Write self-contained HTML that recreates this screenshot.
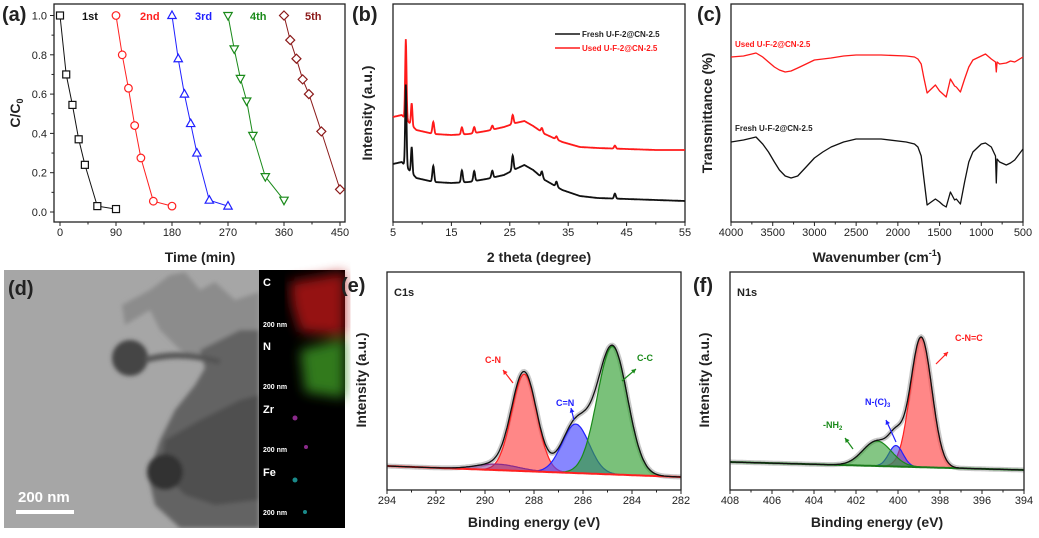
<!DOCTYPE html>
<html><head><meta charset="utf-8">
<style>
html,body{margin:0;padding:0;background:#fff;}
svg{display:block;font-family:"Liberation Sans",Arial,sans-serif;}
.tick{font-size:11px;fill:#222;}
.ttl{font-size:14px;font-weight:bold;fill:#222;}
.plab{font-size:20px;font-weight:bold;fill:#222;}
</style></head><body>
<svg id="fig" width="1039" height="538" viewBox="0 0 1039 538" xmlns="http://www.w3.org/2000/svg">
<defs>
<filter id="blur2"><feGaussianBlur stdDeviation="2"/></filter>
<filter id="blur6"><feGaussianBlur stdDeviation="6"/></filter>
<clipPath id="temclip"><rect x="4" y="270" width="255" height="258"/></clipPath>
</defs>
<!-- panel d TEM -->
<g>
<rect x="4" y="270" width="255" height="258" fill="#a6a6a6"/>
<g filter="url(#blur2)" clip-path="url(#temclip)">
<path d="M170,275 L185,272 L200,290 L215,282 L235,300 L259,292 L259,330 L230,335 L210,345 L200,360 L180,350 L160,330 L150,310 L125,325 L122,305 L150,290 Z" fill="#8c8c8c"/>
<path d="M200,350 L240,330 L259,330 L259,528 L180,528 L155,505 L148,475 L160,440 L175,410 L195,385 L205,368 Z" fill="#636363"/>
<path d="M165,440 L200,420 L240,400 L259,395 L259,500 L215,505 L185,495 L160,470 Z" fill="#4f4f4f"/>
<circle cx="130" cy="358" r="18" fill="#444"/>
<circle cx="165" cy="472" r="18" fill="#333"/>
<path d="M145,360 Q180,350 220,362" stroke="#555" stroke-width="6" fill="none"/>
</g>
<text x="8" y="295" class="plab">(d)</text>
<text x="18" y="502" fill="#fff" font-size="15" font-weight="bold">200 nm</text>
<rect x="16" y="510" width="58" height="4" fill="#fff"/>
<rect x="259" y="270" width="86" height="258" fill="#000"/>
<g filter="url(#blur6)" opacity="0.85">
<path d="M290,282 L345,272 L345,336 L300,332 L292,305 Z" fill="#b01818"/>
<path d="M300,350 L345,338 L345,398 L305,392 Z" fill="#3a9020"/>
</g>
<circle cx="295" cy="418" r="2.5" fill="#8a2a8a"/><circle cx="306" cy="447" r="2" fill="#8a2a8a"/>
<circle cx="295" cy="480" r="2.5" fill="#1a8a8a"/><circle cx="305" cy="512" r="2" fill="#1a8a8a"/>
<g fill="#fff" font-weight="bold" font-size="11">
<text x="263" y="286">C</text><text x="263" y="350">N</text><text x="263" y="413">Zr</text><text x="263" y="476">Fe</text>
<text x="263" y="327" font-size="7">200 nm</text><text x="263" y="389" font-size="7">200 nm</text><text x="263" y="452" font-size="7">200 nm</text><text x="263" y="515" font-size="7">200 nm</text>
</g>
</g>
<g id="plots"></g>
</svg>
<script>
// ---------- Panel (a) data ----------
const aTimes1=[0,10,20,30,40,60,90], aVals1=[1.0,0.70,0.545,0.37,0.24,0.03,0.015];
const aTimes2=[90,100,110,120,130,150,180], aVals2=[1.0,0.80,0.63,0.44,0.275,0.055,0.03];
const aTimes3=[180,190,200,210,220,240,270], aVals3=[1.0,0.78,0.60,0.45,0.30,0.06,0.03];
const aTimes4=[270,280,290,300,310,330,360], aVals4=[1.0,0.83,0.68,0.565,0.39,0.18,0.06];
const aTimes5=[360,370,380,390,400,420,450], aVals5=[1.0,0.875,0.78,0.675,0.60,0.41,0.115];
const aRunLabels=["1st","2nd","3rd","4th","5th"];
const aXTicks=[0,90,180,270,360,450];
const aYTicks=[0,0.2,0.4,0.6,0.8,1.0];
// ---------- Panel (b) data ----------
const bBaseX=[5,6.5,9,12,15,18,21,24,26,27.5,29,31,34,37,40,45,50,55];
const bFreshBase=[58,60,44,40,39,40,43,47,53,57,52,42,32,26,24,23,22,21];
const bUsedBase=[105,107,92,88,87,88,91,95,99,101,96,88,80,75,74,73,72,72];
const bPeakPos=[7.2,8.2,11.9,16.8,18.9,22,25.5,30.5,33,43];
const bFreshPeaks=[82,26,16,12,10,7,15,6,5,5];
const bUsedPeaks=[80,22,12,7,6,4,9,4,3,3];
const bXTicks=[5,15,25,35,45,55];
// ---------- Panel (c) data ----------
const cWave=[4000,3850,3750,3700,3620,3550,3480,3420,3350,3280,3200,3100,3000,2900,2800,2650,2500,2200,1900,1800,1760,1720,1690,1650,1600,1550,1500,1460,1420,1370,1320,1300,1250,1200,1150,1100,1000,950,880,830,820,810,780,700,650,600,500];
const cUsed=[165,166,168,169,165,160,155,152,150,151,154,158,162,163,164,166,167,167,166,165,163,158,145,129,133,137,131,128,125,143,136,135,130,143,155,162,166,168,163,160,150,160,158,159,161,160,165];
const cFresh=[80,82,84,85,78,70,60,52,46,44,46,55,64,70,75,80,83,83,80,78,75,66,45,17,20,23,20,17,15,30,22,23,18,40,60,70,78,79,75,66,39,63,60,57,59,62,73];
const cXTicks=[4000,3500,3000,2500,2000,1500,1000,500];
// ---------- Panel (e) data ----------
const eBgEnds=[24,13];
const ePeakCenters=[288.4,286.3,284.8,289.5];
const ePeakHeights=[97,49,128,6];
const ePeakFwhm=[1.2,1.3,1.45,2.0];
const eXTicks=[294,292,290,288,286,284,282];
// ---------- Panel (f) data ----------
const fBgEnds=[28,20];
const fPeakCenters=[398.9,400.1,401.0];
const fPeakHeights=[130,21,25];
const fPeakFwhm=[1.2,0.8,1.6];
const fXTicks=[408,406,404,402,400,398,396,394];

const NS="http://www.w3.org/2000/svg";
const root=document.getElementById('plots');
function el(tag,attrs,parent){const e=document.createElementNS(NS,tag);for(const k in attrs)e.setAttribute(k,attrs[k]);(parent||root).appendChild(e);return e;}
function lin(d0,d1,r0,r1){return v=>r0+(v-d0)*(r1-r0)/(d1-d0);}
function frame(x0,y0,x1,y1,name){
  const r=el('rect',{x:x0,y:y0,width:x1-x0,height:y1-y0,fill:'none',stroke:'#222','stroke-width':1.3});
  
  
}
function xAxis(sx,ticks,y,fmt,name){
  const g=el('g',{});
  
  
  ticks.forEach((t,i)=>{
    el('line',{x1:sx(t),x2:sx(t),y1:y,y2:y+4,stroke:'#222'},g);
    if(i<ticks.length-1){const m=sx((t+ticks[i+1])/2);el('line',{x1:m,x2:m,y1:y,y2:y+2.5,stroke:'#222'},g);}
    const tx=el('text',{x:sx(t),y:y+14,'text-anchor':'middle',class:'tick'},g);tx.textContent=fmt?fmt(t):t;
  });
}
function title(x,y,txt,name,rot){
  const t=el('text',{x:x,y:y,'text-anchor':'middle',class:'ttl',transform:rot?`rotate(-90 ${x} ${y})`:''});
  t.innerHTML=txt;
  
  
}
function plab(x,y,txt,name){const t=el('text',{x:x,y:y,class:'plab'});t.textContent=txt;
  
  }
function pathFrom(xs,ys,sx,sy){return xs.map((x,i)=>(i?'L':'M')+sx(x).toFixed(1)+','+sy(ys[i]).toFixed(1)).join('');}
function interp(xs,ys,x){for(let i=0;i<xs.length-1;i++){if(x>=xs[i]&&x<=xs[i+1]){return ys[i]+(ys[i+1]-ys[i])*(x-xs[i])/(xs[i+1]-xs[i]);}}return ys[ys.length-1];}
function gauss(x,c,h,w){const s=w/2.355;return h*Math.exp(-((x-c)*(x-c))/(2*s*s));}

// ===== Panel (a) =====
(function(){
  const sx=lin(0,450,60,340), sy=lin(0,1,212,15.5);
  frame(54,4,345,222,'plot-frame-a');
  xAxis(sx,aXTicks,222,null,'x-axis-a');
  const gy=el('g',{});
  
  
  aYTicks.forEach((t,i)=>{el('line',{x1:50,x2:54,y1:sy(t),y2:sy(t),stroke:'#222'},gy);
    if(i<aYTicks.length-1){el('line',{x1:51.5,x2:54,y1:sy(t+0.1),y2:sy(t+0.1),stroke:'#222'},gy);}
    const tx=el('text',{x:47,y:sy(t)+4,'text-anchor':'end',class:'tick'},gy);tx.textContent=t.toFixed(1);});
  title(200,262,'Time (min)','x-axis-title-a');
  title(20,113,'C/C<tspan font-size="9" dy="3">0</tspan>','y-axis-title-a',true);
  plab(2,21,'(a)','panel-label-a');
  const series=[[aTimes1,aVals1,'#111','sq'],[aTimes2,aVals2,'#ff2020','ci'],[aTimes3,aVals3,'#2020ff','tu'],[aTimes4,aVals4,'#1a8a1a','td'],[aTimes5,aVals5,'#8b1a1a','di']];
  const labX=[82,140,195,250,305];
  series.forEach((s,k)=>{
    const g=el('g',{});
    
    
    el('path',{d:pathFrom(s[0],s[1],sx,sy),fill:'none',stroke:s[2],'stroke-width':1},g);
    s[0].forEach((t,i)=>{const x=sx(t),y=sy(s[1][i]);let m;
      if(s[3]=='sq')m=el('rect',{x:x-3.5,y:y-3.5,width:7,height:7},g);
      else if(s[3]=='ci')m=el('circle',{cx:x,cy:y,r:3.8},g);
      else if(s[3]=='tu')m=el('path',{d:`M${x},${y-4.5}L${x+4.2},${y+3}L${x-4.2},${y+3}Z`},g);
      else if(s[3]=='td')m=el('path',{d:`M${x},${y+4.5}L${x+4.2},${y-3}L${x-4.2},${y-3}Z`},g);
      else m=el('path',{d:`M${x},${y-4.5}L${x+4.5},${y}L${x},${y+4.5}L${x-4.5},${y}Z`},g);
      m.setAttribute('fill','#fff');m.setAttribute('stroke',s[2]);m.setAttribute('stroke-width','1.2');
      
      
    });
    const t=el('text',{x:labX[k],y:20,fill:s[2],'font-size':11,'font-weight':'bold'},g);t.textContent=aRunLabels[k];
  });
})();

// ===== Panel (b) =====
(function(){
  const sx=lin(5,55,393,685), sy=lin(0,218,222,4);
  frame(393,4,685,222,'plot-frame-b');
  xAxis(sx,bXTicks,222,null,'x-axis-b');
  title(539,262,'2 theta (degree)','x-axis-title-b');
  title(372,113,'Intensity (a.u.)','y-axis-title-b',true);
  plab(352,21,'(b)','panel-label-b');
  function build(base,peaks){const xs=[],ys=[];for(let x=5;x<=55.001;x+=0.05){let v=interp(bBaseX,base,x);bPeakPos.forEach((p,i)=>{v+=gauss(x,p,peaks[i],p<9?0.28:0.35);});xs.push(x);ys.push(v);}return [xs,ys];}
  const u=build(bUsedBase,bUsedPeaks), f=build(bFreshBase,bFreshPeaks);
  const pu=el('path',{d:pathFrom(u[0],u[1],sx,sy),fill:'none',stroke:'#ff1a1a','stroke-width':1.8});
  
  
  const pf=el('path',{d:pathFrom(f[0],f[1],sx,sy),fill:'none',stroke:'#111','stroke-width':1.8});
  
  
  const lg=el('g',{});
  
  
  el('line',{x1:555,x2:580,y1:34,y2:34,stroke:'#111','stroke-width':1.5},lg);
  el('line',{x1:555,x2:580,y1:48,y2:48,stroke:'#ff1a1a','stroke-width':1.5},lg);
  let t=el('text',{x:582,y:37,'font-size':8,'font-weight':'bold',fill:'#222'},lg);t.textContent='Fresh U-F-2@CN-2.5';
  t=el('text',{x:582,y:51,'font-size':8,'font-weight':'bold',fill:'#ff1a1a'},lg);t.textContent='Used  U-F-2@CN-2.5';
})();

// ===== Panel (c) =====
(function(){
  const sx=lin(4000,500,731,1023), sy=lin(0,218,222,4);
  frame(731,4,1023,222,'plot-frame-c');
  xAxis(sx,cXTicks,222,null,'x-axis-c');
  title(877,262,'Wavenumber (cm<tspan font-size="9" dy="-6">-1</tspan><tspan dy="6">)</tspan>','x-axis-title-c');
  title(712,113,'Transmittance (%)','y-axis-title-c',true);
  plab(697,21,'(c)','panel-label-c');
  const pu=el('path',{d:pathFrom(cWave,cUsed,sx,sy),fill:'none',stroke:'#ff1a1a','stroke-width':1.3,'stroke-linejoin':'round'});
  
  
  const pf=el('path',{d:pathFrom(cWave,cFresh,sx,sy),fill:'none',stroke:'#111','stroke-width':1.3,'stroke-linejoin':'round'});
  
  
  let t=el('text',{x:735,y:47,'font-size':8,'font-weight':'bold',fill:'#ff1a1a'});t.textContent='Used U-F-2@CN-2.5';
  
  
  t=el('text',{x:735,y:131,'font-size':8,'font-weight':'bold',fill:'#222'});t.textContent='Fresh U-F-2@CN-2.5';
  
  
})();

// ===== XPS helper =====
function xps(x0,x1,px0,px1,bg,cent,hts,fw,cols,strokes,letter,corelabel,lx){
  const sx=lin(x0,x1,px0,px1), sy=lin(0,218,490,272);
  const xs=[];for(let x=x0;x>=x1-0.0001;x-=0.05)xs.push(x);
  const bgv=xs.map(x=>bg[0]+(bg[1]-bg[0])*(x0-x)/(x0-x1));
  const env=xs.map((x,i)=>{let v=bgv[i];cent.forEach((c,k)=>v+=gauss(x,c,hts[k],fw[k]));return v;});
  const raw=el('path',{d:pathFrom(xs,env,sx,sy),fill:'none',stroke:'#c8c8c8','stroke-width':5});
  
  
  cent.forEach((c,k)=>{
    const top=xs.map((x,i)=>bgv[i]+gauss(x,c,hts[k],fw[k]));
    const d=pathFrom(xs,top,sx,sy)+'L'+sx(xs[xs.length-1])+','+sy(bgv[bgv.length-1])+'L'+sx(xs[0])+','+sy(bgv[0])+'Z';
    const p=el('path',{d:d,fill:cols[k],stroke:'none'});
    
    
    el('path',{d:pathFrom(xs,top,sx,sy),fill:'none',stroke:strokes[k],'stroke-width':1.2});
  });
  const b=el('path',{d:pathFrom(xs,bgv,sx,sy),fill:'none',stroke:strokes[strokes.length-1],'stroke-width':2});
  
  
  const e=el('path',{d:pathFrom(xs,env,sx,sy),fill:'none',stroke:'#111','stroke-width':1.3});
  
  
  frame(px0,272,px1,490,'plot-frame-'+letter);
  const ticks=[];for(let t=x0;t>=x1;t-=2)ticks.push(t);
  xAxis(sx,ticks,490,null,'x-axis-'+letter);
  title((px0+px1)/2,527,'Binding energy (eV)','x-axis-title-'+letter);
  title(px0-21,380,'Intensity (a.u.)','y-axis-title-'+letter,true);
  plab(lx,292,'('+letter+')','panel-label-'+letter);
  const t=el('text',{x:px0+7,y:296,'font-size':11,'font-weight':'bold',fill:'#222'});t.textContent=corelabel;
  
  
}
xps(294,282,387,681,eBgEnds,ePeakCenters,ePeakHeights,ePeakFwhm,
  ['rgba(255,70,70,0.65)','rgba(70,70,255,0.65)','rgba(50,160,50,0.65)','rgba(120,40,140,0.5)'],
  ['#ff2020','#2020ff','#1a8a1a','#8a2a8a','#ff2020'],'e','C1s',341);
xps(408,394,730,1024,fBgEnds,fPeakCenters,fPeakHeights,fPeakFwhm,
  ['rgba(255,70,70,0.65)','rgba(60,60,230,0.55)','rgba(50,160,50,0.6)'],
  ['#ff2020','#2020ff','#1a8a1a','#1a7a1a'],'f','N1s',693);
// annotations
function ann(x,y,txt,col,ax1,ay1,ax2,ay2,name){
  const g=el('g',{});
  
  
  const t=el('text',{x:x,y:y,'font-size':9,'font-weight':'bold',fill:col},g);t.innerHTML=txt;
  el('line',{x1:ax1,y1:ay1,x2:ax2,y2:ay2,stroke:col,'stroke-width':1.2},g);
  const a=Math.atan2(ay2-ay1,ax2-ax1);
  el('path',{d:`M${ax2},${ay2}L${ax2-5*Math.cos(a-0.5)},${ay2-5*Math.sin(a-0.5)}L${ax2-5*Math.cos(a+0.5)},${ay2-5*Math.sin(a+0.5)}Z`,fill:col},g);
}
ann(485,363,'C-N','#ff2020',513,383,503,370,'label-c-n');
ann(556,406,'C=N','#2020ff',574,420,571,408,'label-c-eq-n');
ann(637,361,'C-C','#1a8a1a',622,381,636,369,'label-c-c');
ann(955,341,'C-N=C','#ff2020',936,364,948,352,'label-c-n-eq-c');
ann(865,405,'N-(C)<tspan font-size="6" dy="2">3</tspan>','#2020ff',896,442,886,420,'label-n-c3');
ann(823,428,'-NH<tspan font-size="6" dy="2">2</tspan>','#1a8a1a',853,449,845,438,'label-nh2');
</script>
</body></html>
